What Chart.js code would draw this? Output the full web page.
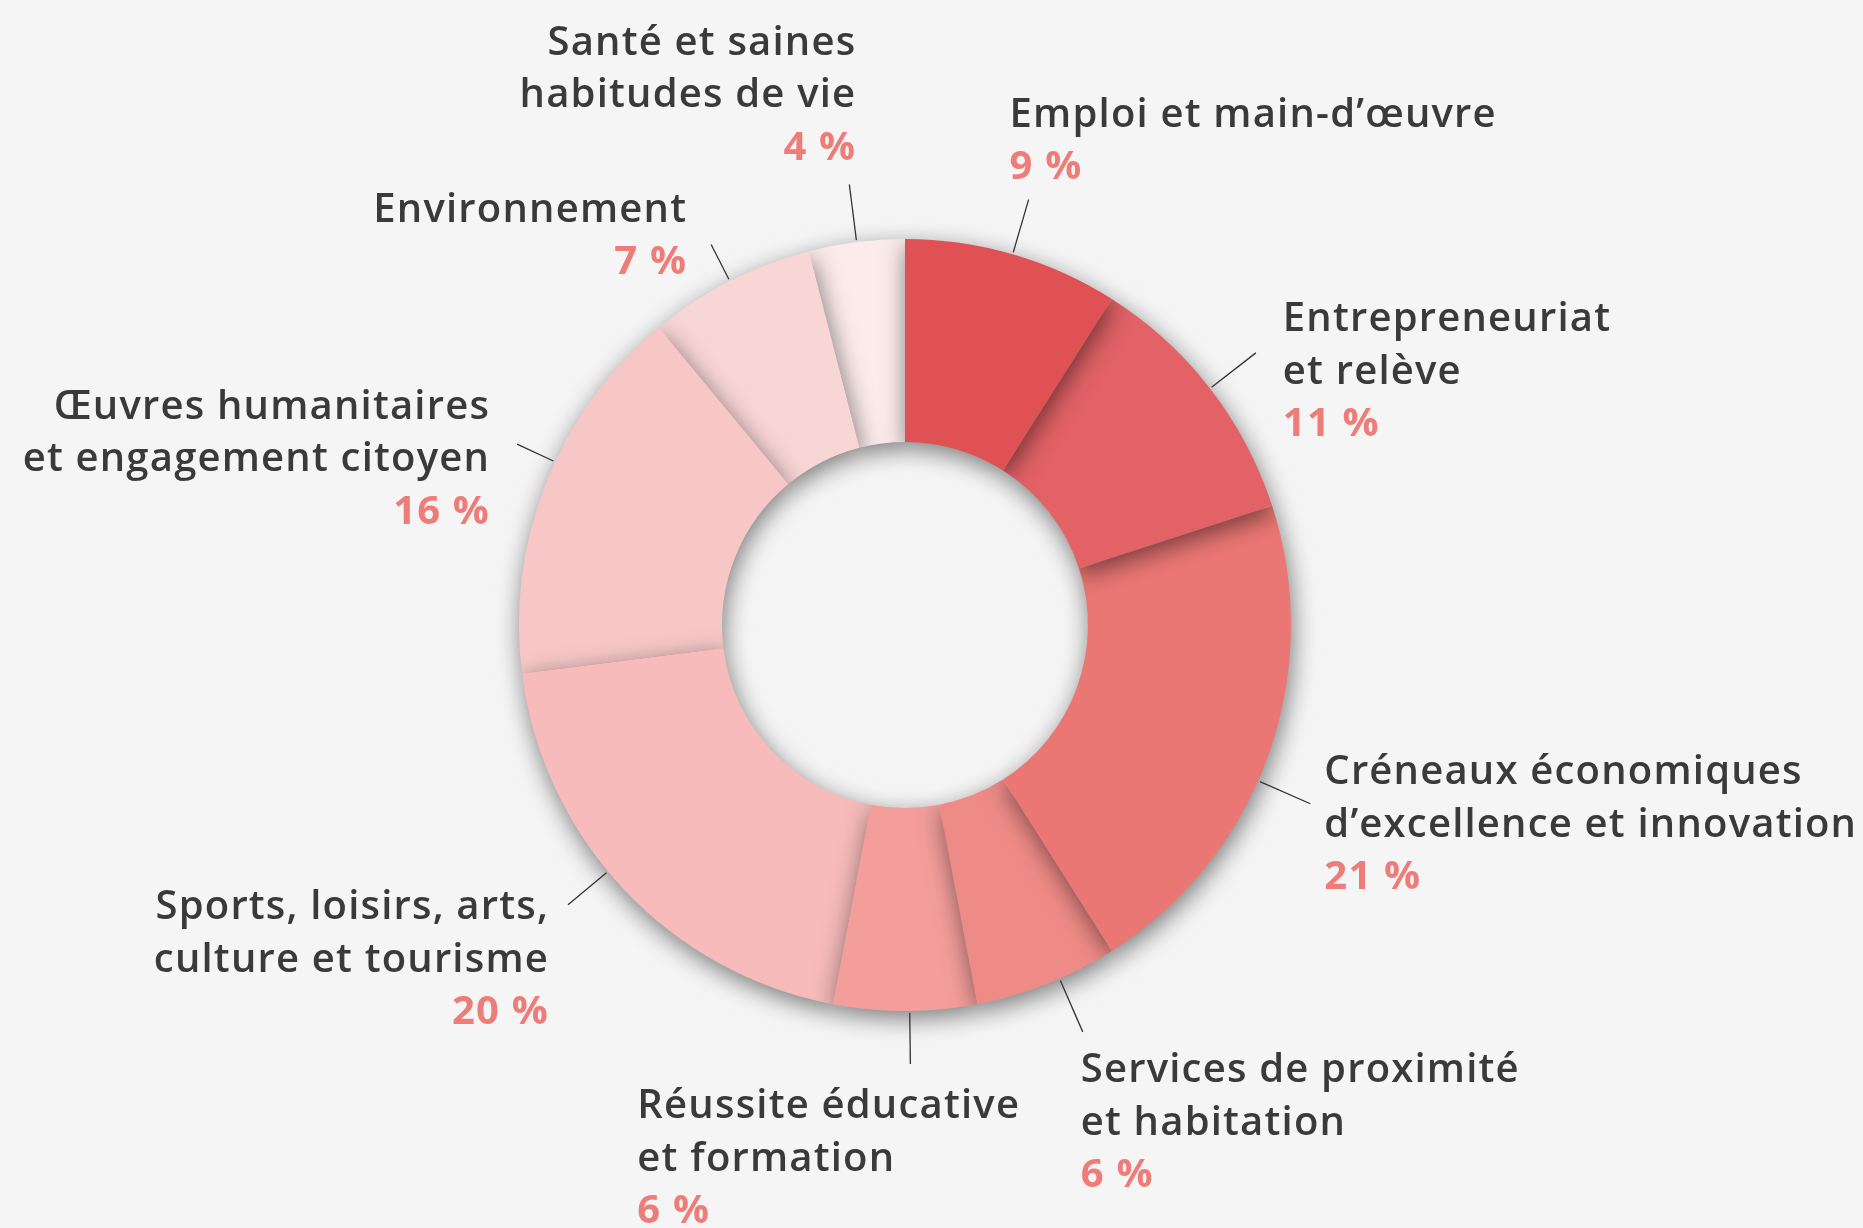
<!DOCTYPE html>
<html>
<head>
<meta charset="utf-8">
<script src="https://cdn.jsdelivr.net/npm/chart.js@4.4.1/dist/chart.umd.min.js"></script>
<style>
  html, body { margin: 0; padding: 0; background: #f5f5f5; }
  #wrap { width: 1863px; height: 1228px; }
</style>
</head>
<body>
<div id="wrap"><canvas id="chart"></canvas></div>
<script>
/* Data */
const categories = [
  ['Emploi et main-d’œuvre'],
  ['Entrepreneuriat', 'et relève'],
  ['Créneaux économiques', 'd’excellence et innovation'],
  ['Services de proximité', 'et habitation'],
  ['Réussite éducative', 'et formation'],
  ['Sports, loisirs, arts,', 'culture et tourisme'],
  ['Œuvres humanitaires', 'et engagement citoyen'],
  ['Environnement'],
  ['Santé et saines', 'habitudes de vie']
];
const shares = [9, 11, 21, 6, 6, 20, 16, 7, 4];

/* Styles */
const colors = ['#e05156', '#e26266', '#eb7774', '#ee8b87', '#f39e9b',
                '#f6bbba', '#f7c7c7', '#f9d6d6', '#fcebeb'];
// label placement relative to the end of the leader line: align, dx, dy (first line centre)
const labelPlace = [
  { align: 'left',  dx: -19, dy: -84 },
  { align: 'left',  dx: 27,  dy: -33 },
  { align: 'left',  dx: 14,  dy: -31 },
  { align: 'left',  dx: -2,  dy: 39 },
  { align: 'left',  dx: -273, dy: 43 },
  { align: 'right', dx: -19, dy: 3 },
  { align: 'right', dx: -27, dy: -37 },
  { align: 'right', dx: -24, dy: -34 },
  { align: 'right', dx: 7,   dy: -141 }
];
const leaderNudge = [0, 0, 4, -2, -0.7, 3.5, 3.4, 0, 0]; // degrees
const leaderLen = [55, 56, 55, 56, 51, 50, 40, 39, 56];
const lineH = 52.5;
const textFont = '600 40px "Open Sans", sans-serif';
const pctFont = 'bold 40px "Open Sans", sans-serif';

const shadowRing = {
  id: 'shadowRing',
  beforeDatasetsDraw(chart) {
    const ctx = chart.ctx;
    const arcs = chart.getDatasetMeta(0).data;
    ctx.save();
    ctx.shadowColor = 'rgba(0,0,0,0.5)';
    ctx.shadowBlur = 24;
    ctx.shadowOffsetX = 2;
    ctx.shadowOffsetY = 7;
    for (let i = arcs.length - 1; i >= 0; i--) {
      arcs[i].draw(ctx);
    }
    ctx.restore();
    return false;
  },
  afterDraw(chart) {
    const ctx = chart.ctx;
    const arcs = chart.getDatasetMeta(0).data;
    ctx.save();
    ctx.letterSpacing = '1.2px';
    arcs.forEach((arc, i) => {
      const a = (arc.startAngle + arc.endAngle) / 2 + leaderNudge[i] * Math.PI / 180;
      const r0 = arc.outerRadius + 2, r1 = r0 + leaderLen[i];
      const x1 = arc.x + r1 * Math.cos(a), y1 = arc.y + r1 * Math.sin(a);
      ctx.beginPath();
      ctx.moveTo(arc.x + r0 * Math.cos(a), arc.y + r0 * Math.sin(a));
      ctx.lineTo(x1, y1);
      ctx.strokeStyle = '#333333';
      ctx.lineWidth = 1.3;
      ctx.stroke();

      const p = labelPlace[i];
      const lines = categories[i];
      ctx.textAlign = p.align;
      ctx.textBaseline = 'middle';
      const tx = x1 + p.dx;
      let ty = y1 + p.dy;
      ctx.font = textFont;
      ctx.fillStyle = '#3a3a3a';
      lines.forEach(l => { ctx.fillText(l, tx, ty); ty += lineH; });
      ctx.font = pctFont;
      ctx.fillStyle = '#ee7c79';
      ctx.fillText(shares[i] + ' %', tx, ty);
    });
    ctx.restore();
  }
};

new Chart(document.getElementById('chart'), {
  type: 'doughnut',
  data: {
    labels: categories.map(c => c.join(' ')),
    datasets: [{
      data: shares,
      backgroundColor: colors,
      borderWidth: 0
    }]
  },
  options: {
    responsive: true,
    maintainAspectRatio: false,
    animation: false,
    cutout: '47.4%',
    layout: { padding: { left: 519, right: 572, top: 239, bottom: 217 } },
    plugins: { legend: { display: false }, tooltip: { enabled: false } }
  },
  plugins: [shadowRing]
});
</script>
</body>
</html>
